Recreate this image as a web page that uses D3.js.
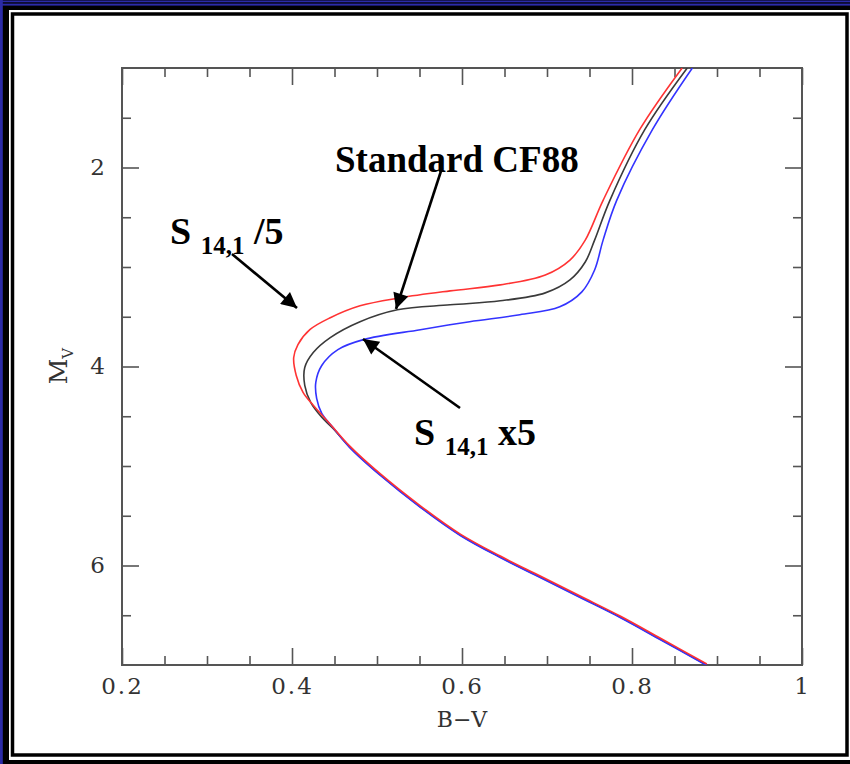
<!DOCTYPE html>
<html>
<head>
<meta charset="utf-8">
<script src="https://cdn.jsdelivr.net/npm/d3@7"></script>
<style>
  body { margin: 0; background: #fff; }
</style>
</head>
<body>
<div id="visualization"></div>
<script>
// isochrone tracks, [B-V, Mv]
const curveSlow = [[0.859,1.00],[0.809,1.62],[0.766,2.33],[0.745,2.73],[0.727,2.93],[0.698,3.08],[0.645,3.18],[0.586,3.24],[0.527,3.31],[0.480,3.39],[0.445,3.51],[0.421,3.63],[0.407,3.78],[0.402,3.91],[0.405,4.09],[0.413,4.26],[0.425,4.39],[0.445,4.58],[0.468,4.80],[0.504,5.08],[0.551,5.40],[0.598,5.684],[0.645,5.905],[0.692,6.106],[0.739,6.307],[0.786,6.508],[0.833,6.729],[0.888,6.99]];
const curveStd = [[0.865,1.00],[0.815,1.62],[0.774,2.33],[0.756,2.73],[0.745,2.95],[0.727,3.13],[0.698,3.26],[0.645,3.34],[0.586,3.38],[0.524,3.43],[0.480,3.55],[0.445,3.71],[0.425,3.86],[0.415,4.01],[0.415,4.19],[0.422,4.36],[0.435,4.51],[0.448,4.62],[0.468,4.81],[0.504,5.09],[0.551,5.41],[0.598,5.693],[0.645,5.915],[0.692,6.116],[0.739,6.317],[0.786,6.518],[0.833,6.739],[0.888,7.00]];
const curveFast = [[0.871,1.00],[0.824,1.62],[0.782,2.33],[0.766,2.73],[0.756,3.03],[0.741,3.25],[0.715,3.40],[0.668,3.48],[0.609,3.55],[0.551,3.63],[0.484,3.73],[0.454,3.83],[0.435,3.99],[0.428,4.16],[0.429,4.32],[0.435,4.47],[0.448,4.61],[0.468,4.815],[0.504,5.095],[0.551,5.415],[0.598,5.698],[0.645,5.92],[0.692,6.121],[0.739,6.322],[0.786,6.523],[0.833,6.744],[0.888,7.005]];

const xMajor = [0.2, 0.4, 0.6, 0.8, 1];
const xMinor = [0.25, 0.3, 0.35, 0.45, 0.5, 0.55, 0.65, 0.7, 0.75, 0.85, 0.9, 0.95];
const yMajor = [2, 4, 6];
const yMinor = [1.5, 2.5, 3, 3.5, 4.5, 5, 5.5, 6.5];

const W = 850, H = 764;
const plot = {left: 122, right: 802, top: 68, bottom: 665};

const svg = d3.select("#visualization")
    .append("svg")
    .attr("width", W)
    .attr("height", H);

// picture frame
svg.append("rect").attr("width", W).attr("height", H).style("fill", "#fff");
svg.append("rect").attr("x", 0).attr("y", 0).attr("width", W).attr("height", 10).style("fill", "#000");
svg.append("rect").attr("x", 0).attr("y", 0).attr("width", 9).attr("height", H).style("fill", "#000");
svg.append("rect").attr("x", 0).attr("y", 760).attr("width", W).attr("height", 4).style("fill", "#000");
svg.append("rect").attr("x", 0).attr("y", 0.5).attr("width", W).attr("height", 1.8).style("fill", "#2b2ba8");
svg.append("rect").attr("x", 0).attr("y", 3.6).attr("width", W).attr("height", 2).style("fill", "#2b2ba8");
svg.append("rect").attr("x", 0).attr("y", 0).attr("width", 2.8).attr("height", H).style("fill", "#2b2ba8");
svg.append("rect")
    .attr("x", 12.5).attr("y", 14).attr("width", 834.5).attr("height", 741)
    .style("fill", "#fff").style("stroke", "#000").style("stroke-width", 3.5);

const x = d3.scaleLinear().domain([0.2, 1]).range([plot.left, plot.right]);
const y = d3.scaleLinear().domain([1, 7]).range([plot.top, plot.bottom]);

const tickColor = "#555";
const labelFont = "DejaVu Serif";

function styleAxis(g) {
    g.select(".domain").remove();
    g.selectAll("line").style("stroke", tickColor).style("stroke-width", 1.6);
    g.selectAll("text")
        .style("font-family", labelFont)
        .style("font-size", "23px")
        .style("fill", "#333");
}

// bottom
svg.append("g").attr("transform", `translate(0,${plot.bottom})`)
    .call(d3.axisBottom(x).tickValues(xMinor).tickSize(-9).tickFormat(""))
    .call(styleAxis);
svg.append("g").attr("transform", `translate(0,${plot.bottom})`)
    .call(d3.axisBottom(x).tickValues(xMajor).tickSize(-17).tickPadding(13).tickFormat(d3.format("")))
    .call(styleAxis)
    .selectAll("text").style("letter-spacing", "2px");
// top
svg.append("g").attr("transform", `translate(0,${plot.top})`)
    .call(d3.axisTop(x).tickValues(xMinor).tickSize(-9).tickFormat(""))
    .call(styleAxis);
svg.append("g").attr("transform", `translate(0,${plot.top})`)
    .call(d3.axisTop(x).tickValues(xMajor).tickSize(-17).tickFormat(""))
    .call(styleAxis);
// left
svg.append("g").attr("transform", `translate(${plot.left},0)`)
    .call(d3.axisLeft(y).tickValues(yMinor).tickSize(-9).tickFormat(""))
    .call(styleAxis);
svg.append("g").attr("transform", `translate(${plot.left},0)`)
    .call(d3.axisLeft(y).tickValues(yMajor).tickSize(-17).tickPadding(17).tickFormat(d3.format("d")))
    .call(styleAxis);
// right
svg.append("g").attr("transform", `translate(${plot.right},0)`)
    .call(d3.axisRight(y).tickValues(yMinor).tickSize(-9).tickFormat(""))
    .call(styleAxis);
svg.append("g").attr("transform", `translate(${plot.right},0)`)
    .call(d3.axisRight(y).tickValues(yMajor).tickSize(-17).tickFormat(""))
    .call(styleAxis);

svg.append("rect")
    .attr("x", plot.left).attr("y", plot.top)
    .attr("width", plot.right - plot.left).attr("height", plot.bottom - plot.top)
    .style("fill", "none").style("stroke", tickColor).style("stroke-width", 2);

// axis titles
svg.append("text")
    .attr("x", x(0.6)).attr("y", 727)
    .attr("text-anchor", "middle")
    .style("font-family", labelFont).style("font-size", "22px").style("fill", "#333")
    .text("B\u2212V");

const mv = svg.append("text")
    .attr("transform", "translate(67,366) rotate(-90)")
    .attr("text-anchor", "middle")
    .style("font-family", labelFont).style("font-size", "25px").style("fill", "#333");
mv.append("tspan").text("M");
mv.append("tspan").attr("dy", 6).style("font-size", "15px").text("V");

// curves
svg.append("clipPath").attr("id", "clip")
    .append("rect")
    .attr("x", plot.left).attr("y", plot.top)
    .attr("width", plot.right - plot.left).attr("height", plot.bottom - plot.top);

const line = d3.line()
    .x((d) => x(d[0]))
    .y((d) => y(d[1]))
    .curve(d3.curveCatmullRom.alpha(0.5));

const curves = [
    {data: curveStd, color: "#3a3a3a"},
    {data: curveFast, color: "#3333ff"},
    {data: curveSlow, color: "#ff3333"}
];

svg.append("g").attr("clip-path", "url(#clip)")
    .selectAll("path")
    .data(curves)
    .enter().append("path")
    .attr("d", (d) => line(d.data))
    .style("fill", "none")
    .style("stroke", (d) => d.color)
    .style("stroke-width", 1.6);

// annotations
svg.append("defs").append("marker")
    .attr("id", "head")
    .attr("viewBox", "0 0 10 10")
    .attr("refX", 10).attr("refY", 5)
    .attr("markerWidth", 7).attr("markerHeight", 6)
    .attr("markerUnits", "strokeWidth")
    .attr("orient", "auto")
    .append("path")
    .attr("d", "M0,0L10,5L0,10Z")
    .style("fill", "#000");

const arrows = [
    [232, 254, 297, 308],
    [442, 168, 396, 309],
    [460, 408, 363, 339]
];

svg.selectAll(".arrow")
    .data(arrows)
    .enter().append("line")
    .attr("class", "arrow")
    .attr("x1", (d) => d[0]).attr("y1", (d) => d[1])
    .attr("x2", (d) => d[2]).attr("y2", (d) => d[3])
    .style("stroke", "#000")
    .style("stroke-width", 2.6)
    .attr("marker-end", "url(#head)");

const annFont = "Liberation Serif";

svg.append("text")
    .attr("x", 335).attr("y", 172)
    .style("font-family", annFont).style("font-weight", "bold").style("font-size", "37px")
    .text("Standard CF88");

function sLabel(x0, y0, tail) {
    const t = svg.append("text")
        .attr("x", x0).attr("y", y0)
        .style("font-family", annFont).style("font-weight", "bold").style("font-size", "38px");
    t.append("tspan").text("S ");
    t.append("tspan").attr("dy", 10).style("font-size", "25px").text("14,1");
    t.append("tspan").attr("dy", -10).text(tail);
}
sLabel(170, 244, " /5");
sLabel(414, 445, " x5");
</script>
</body>
</html>
